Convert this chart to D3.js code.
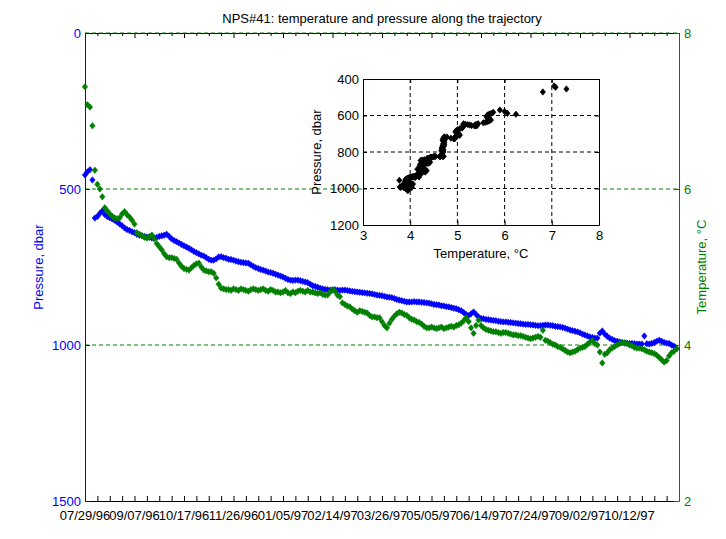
<!DOCTYPE html>
<html><head><meta charset="utf-8">
<script src="https://cdn.jsdelivr.net/npm/d3@7"></script>
<style>
body{margin:0;background:#fff}
text{font-family:"Liberation Sans",Arial,Helvetica,sans-serif;}
</style>
</head><body>
<svg id="c" width="726" height="539"></svg>
<script>
// Days since 07/29/96
const days = [
0,2,4,6,8,10,12,14,16,18,20,22,24,26,28,30,32,34,36,38,
40,42,44,46,48,50,52,54,56,58,60,62,64,66,68,70,72,74,76,78,
80,82,84,86,88,90,92,94,96,98,100,102,104,106,108,110,112,114,116,118,
120,122,124,126,128,130,132,134,136,138,140,142,144,146,148,150,152,154,156,158,
160,162,164,166,168,170,172,174,176,178,180,182,184,186,188,190,192,194,196,198,
200,202,204,206,208,210,212,214,216,218,220,222,224,226,228,230,232,234,236,238,
240,242,244,246,248,250,252,254,256,258,260,262,264,266,268,270,272,274,276,278,
280,282,284,286,288,290,292,294,296,298,300,302,304,306,308,310,312,314,316,318,
320,322,324,326,328,330,332,334,336,338,340,342,344,346,348,350,352,354,356,358,
360,362,364,366,368,370,372,374,376,378,380,382,384,386,388,390,392,394,396,398,
400,402,404,406,408,410,412,414,416,418,420,422,424,426,428,430,432,434,436,438,
440,442,444,446,448,450,452,454,456,458,460,462,464,466,468,470,472,474,476,478];

// Pressure, dbar
const pressure = [
455,445,438,471,593,588,578,570,582,588,592,596,600,606,612,618,625,630,633,637,
640,645,648,650,652,654,655,657,657,655,652,650,648,645,652,660,665,669,673,678,
682,686,690,695,700,704,708,712,715,720,725,728,728,724,718,717,720,722,725,726,
728,731,733,735,736,737,738,743,748,752,755,758,760,763,766,768,770,773,776,779,
782,786,790,792,793,792,792,794,796,798,800,805,810,812,815,818,820,822,823,824,
824,823,824,825,824,824,825,827,828,829,830,831,832,833,834,835,836,838,840,841,
842,844,846,847,848,851,854,856,858,860,862,862,862,861,862,862,863,864,865,866,
868,870,871,872,874,875,877,878,880,882,884,887,890,896,902,906,900,894,902,910,
915,916,918,919,920,921,922,924,925,926,926,927,928,929,930,931,932,933,934,934,
935,936,937,938,938,937,936,936,937,938,940,941,942,944,946,949,952,954,956,958,
961,965,968,971,974,976,978,978,962,955,965,972,978,982,986,988,990,992,994,994,
995,995,996,997,997,997,971,996,997,995,992,988,985,988,992,994,995,1000,1004,1012];

// Temperature, °C
const temperature = [
7.31,7.08,7.05,6.81,6.24,6.06,6.00,5.90,5.76,5.72,5.68,5.65,5.63,5.62,5.63,5.68,5.71,5.67,5.64,5.60,
5.55,5.44,5.42,5.40,5.38,5.37,5.39,5.41,5.36,5.30,5.26,5.22,5.17,5.13,5.12,5.12,5.11,5.10,5.05,5.01,
4.98,4.97,4.96,4.99,5.02,5.04,5.05,5.00,4.96,4.95,4.94,4.94,4.92,4.86,4.78,4.73,4.72,4.71,4.71,4.70,
4.72,4.71,4.70,4.72,4.71,4.70,4.69,4.71,4.72,4.71,4.70,4.71,4.72,4.70,4.69,4.71,4.70,4.68,4.68,4.67,
4.68,4.70,4.67,4.66,4.68,4.67,4.69,4.70,4.69,4.68,4.70,4.68,4.68,4.67,4.66,4.67,4.65,4.64,4.64,4.68,
4.71,4.69,4.64,4.62,4.54,4.52,4.50,4.49,4.46,4.44,4.42,4.44,4.43,4.42,4.41,4.38,4.36,4.36,4.35,4.35,
4.30,4.25,4.22,4.28,4.33,4.37,4.40,4.42,4.41,4.39,4.38,4.35,4.33,4.32,4.30,4.29,4.27,4.24,4.22,4.22,
4.23,4.22,4.21,4.22,4.23,4.21,4.22,4.23,4.24,4.23,4.25,4.26,4.28,4.31,4.35,4.30,4.22,4.15,4.25,4.32,
4.25,4.22,4.20,4.19,4.18,4.17,4.17,4.16,4.15,4.16,4.16,4.15,4.14,4.13,4.13,4.12,4.12,4.11,4.10,4.09,
4.08,4.09,4.10,4.11,4.10,4.19,4.06,4.05,4.03,4.01,4.00,3.98,3.97,3.95,3.93,3.91,3.90,3.91,3.92,3.94,
3.96,3.97,3.98,4.01,4.04,4.06,4.02,4.00,3.91,3.77,3.88,3.90,3.94,3.96,3.98,4.00,4.02,4.03,4.03,4.02,
4.00,3.99,3.97,3.96,3.96,3.95,3.94,3.92,3.91,3.90,3.89,3.87,3.84,3.81,3.78,3.80,3.86,3.90,3.92,3.95];

const xTickLabels = ["07/29/96","09/07/96","10/17/96","11/26/96","01/05/97","02/14/97",
  "03/26/97","05/05/97","06/14/97","07/24/97","09/02/97","10/12/97"];
const xMajorDays = [0,40,80,120,160,200,240,280,320,360,400,440,480];
const pressureTicks = [0,500,1000,1500];
const tempTicks = [2,4,6,8];
const insetXTicks = [3,4,5,6,7,8];
const insetYTicks = [400,600,800,1000,1200];

const BLUE = "#0000ff", GREEN = "#008000", BLACK = "#000";
const FS = "13px";
const FF = '"Liberation Sans",Arial,sans-serif';
const fmt = d3.format("d");
const svg = d3.select("#c");
svg.append("rect").attr("width",726).attr("height",539).attr("fill","#fff");

const L = 85, R = 679, T = 33, B = 501;
const x = d3.scaleLinear().domain([0,480]).range([L,R]);
const yP = d3.scaleLinear().domain([0,1500]).range([T,B]);
const yT = d3.scaleLinear().domain([2,8]).range([B,T]);

const diamond = "M0,-3.2L2.7,0L0,3.2L-2.7,0Z";

// grid lines (temperature axis)
svg.append("g").selectAll("line").data([6,4]).join("line")
  .attr("x1",L).attr("x2",R).attr("y1",d=>yT(d)).attr("y2",d=>yT(d))
  .attr("stroke",GREEN).attr("stroke-dasharray","4,3").attr("stroke-width",1);

// bottom axis (ticks only)
const minorDays = d3.range(0,481,10);
const gB = svg.append("g").attr("transform",`translate(0,${B})`)
  .call(d3.axisBottom(x).tickValues(minorDays).tickSizeInner(-5).tickSizeOuter(0).tickFormat(""));
gB.select(".domain").attr("stroke",BLACK);
gB.selectAll(".tick line").attr("stroke",BLACK);
// bottom labels
svg.append("g").selectAll("text").data(xTickLabels).join("text")
  .attr("x",(d,i)=>x(xMajorDays[i])).attr("y",B+19)
  .attr("text-anchor","middle").attr("font-size",FS).attr("fill",BLACK).text(d=>d);

// top axis
const gTop = svg.append("g").attr("transform",`translate(0,${T})`)
  .call(d3.axisTop(x).tickValues(minorDays).tickSizeInner(-3).tickSizeOuter(0).tickFormat(""));
gTop.selectAll(".tick line").attr("stroke",BLACK).attr("y2",d=>d%40===0?5:3);
gTop.select(".domain").attr("stroke",BLACK);
svg.append("line").attr("x1",L).attr("x2",R).attr("y1",T).attr("y2",T)
  .attr("stroke",GREEN).attr("stroke-dasharray","4,3");

// left axis (pressure)
const gL = svg.append("g").attr("transform",`translate(${L},0)`)
  .call(d3.axisLeft(yP).tickValues(pressureTicks).tickFormat(fmt).tickSizeInner(-5).tickSizeOuter(0).tickPadding(5));
gL.select(".domain").attr("stroke",BLUE);
gL.selectAll(".tick line").attr("stroke",BLUE);
gL.selectAll(".tick text").attr("fill",BLUE).attr("font-size",FS)
  .attr("font-family",FF).attr("x",-4);

// right axis (temperature)
const gR = svg.append("g").attr("transform",`translate(${R},0)`)
  .call(d3.axisRight(yT).tickValues(tempTicks).tickFormat(fmt).tickSizeInner(-5).tickSizeOuter(0).tickPadding(5));
gR.select(".domain").attr("stroke",GREEN);
gR.selectAll(".tick line").attr("stroke",GREEN);
gR.selectAll(".tick text").attr("fill",GREEN).attr("font-size",FS)
  .attr("font-family",FF).attr("x",5);

// series
svg.append("g").selectAll("path").data(days).join("path")
  .attr("d",diamond).attr("fill",BLUE).attr("stroke",BLUE).attr("stroke-width",0.6)
  .attr("transform",(d,i)=>`translate(${x(d)},${yP(pressure[i])})`);
svg.append("g").selectAll("path").data(days).join("path")
  .attr("d",diamond).attr("fill",GREEN).attr("stroke",GREEN).attr("stroke-width",0.6)
  .attr("transform",(d,i)=>`translate(${x(d)},${yT(temperature[i])})`);

// axis titles
svg.append("text").attr("transform",`translate(38,${(T+B)/2}) rotate(-90)`)
  .attr("text-anchor","middle").attr("dy","0.35em").attr("font-size",FS).attr("fill",BLUE)
  .text("Pressure, dbar");
svg.append("text").attr("transform",`translate(701,${(T+B)/2}) rotate(-90)`)
  .attr("text-anchor","middle").attr("dy","0.35em").attr("font-size",FS).attr("fill",GREEN)
  .text("Temperature, °C");
svg.append("text").attr("x",(L+R)/2).attr("y",23).attr("text-anchor","middle")
  .attr("font-size",FS).attr("fill",BLACK)
  .text("NPS#41: temperature and pressure along the trajectory");

// inset
const IL = 363, IR = 599, IT = 79, IB = 225;
const ix = d3.scaleLinear().domain([3,8]).range([IL,IR]);
const iy = d3.scaleLinear().domain([400,1200]).range([IT,IB]);
const inset = svg.append("g");
inset.append("rect").attr("x",IL).attr("y",IT).attr("width",IR-IL).attr("height",IB-IT).attr("fill","#fff");
inset.append("g").selectAll("line").data(insetXTicks.slice(1,-1)).join("line")
  .attr("x1",d=>ix(d)).attr("x2",d=>ix(d)).attr("y1",IT).attr("y2",IB)
  .attr("stroke",BLACK).attr("stroke-dasharray","4,3");
inset.append("g").selectAll("line").data(insetYTicks.slice(1,-1)).join("line")
  .attr("x1",IL).attr("x2",IR).attr("y1",d=>iy(d)).attr("y2",d=>iy(d))
  .attr("stroke",BLACK).attr("stroke-dasharray","4,3");
const giB = inset.append("g").attr("transform",`translate(0,${IB})`)
  .call(d3.axisBottom(ix).tickValues(insetXTicks).tickFormat(fmt).tickSizeInner(-4).tickSizeOuter(0).tickPadding(6));
const giL = inset.append("g").attr("transform",`translate(${IL},0)`)
  .call(d3.axisLeft(iy).tickValues(insetYTicks).tickFormat(fmt).tickSizeInner(-4).tickSizeOuter(0).tickPadding(5));
[giB,giL].forEach(g=>{
  g.selectAll("text").attr("font-size",FS).attr("fill",BLACK).attr("font-family",FF);
  g.selectAll("line,path").attr("stroke",BLACK);
});
giL.selectAll(".tick text").attr("x",-4);
const giT = inset.append("g").attr("transform",`translate(0,${IT})`)
  .call(d3.axisTop(ix).tickValues(insetXTicks).tickSizeInner(-4).tickSizeOuter(0).tickFormat(""));
const giR = inset.append("g").attr("transform",`translate(${IR},0)`)
  .call(d3.axisRight(iy).tickValues(insetYTicks).tickSizeInner(-4).tickSizeOuter(0).tickFormat(""));
[giT,giR].forEach(g=>g.selectAll("line,path").attr("stroke",BLACK));
inset.append("g").selectAll("path").data(days).join("path")
  .attr("d",diamond).attr("fill",BLACK).attr("stroke",BLACK).attr("stroke-width",0.6)
  .attr("transform",(d,i)=>`translate(${ix(temperature[i])},${iy(pressure[i])})`);
inset.append("text").attr("x",(IL+IR)/2).attr("y",258).attr("text-anchor","middle")
  .attr("font-size",FS).attr("fill",BLACK).text("Temperature, °C");
inset.append("text").attr("transform",`translate(316,${(IT+IB)/2}) rotate(-90)`)
  .attr("text-anchor","middle").attr("dy","0.35em").attr("font-size",FS).attr("fill",BLACK)
  .text("Pressure, dbar");
</script>
</body></html>
